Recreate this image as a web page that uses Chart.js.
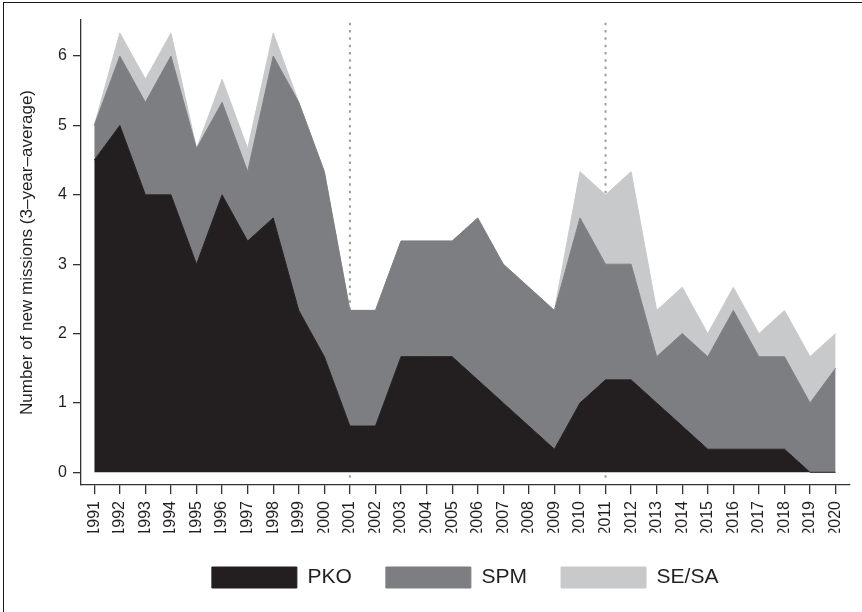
<!DOCTYPE html>
<html><head><meta charset="utf-8">
<script src="https://cdn.jsdelivr.net/npm/chart.js@4/dist/chart.umd.min.js"></script>
<style>
html,body{margin:0;padding:0;background:#fff;overflow:hidden;}
#wrap{position:relative;width:862px;height:612px;overflow:hidden;}
#c{position:absolute;left:0;top:0;}
#frame{position:absolute;left:3px;top:2px;width:900px;height:700px;border-top:1.5px solid #1a1a1a;border-left:1.5px solid #1a1a1a;pointer-events:none;}
</style></head><body>
<div id="wrap"><canvas id="c" width="862" height="612"></canvas><div id="frame"></div></div>
<script>
// ---- data ----
const years = [1991,1992,1993,1994,1995,1996,1997,1998,1999,2000,2001,2002,2003,2004,2005,2006,2007,2008,2009,2010,2011,2012,2013,2014,2015,2016,2017,2018,2019,2020];
const xTickLabels = years.map(String);
const pko  = [4.5,5,4,4,3,4,3.333,3.667,2.333,1.667,0.667,0.667,1.667,1.667,1.667,1.333,1,0.667,0.333,1,1.333,1.333,1,0.667,0.333,0.333,0.333,0.333,0,0];
const spm  = [0.5,1,1.333,2,1.667,1.333,1,2.333,3,2.667,1.667,1.667,1.667,1.667,1.667,2.333,2,2,2,2.667,1.667,1.667,0.667,1.333,1.333,2,1.333,1.333,1,1.5];
const sesa = [0,0.333,0.333,0.333,0,0.333,0.333,0.333,0,0,0,0,0,0,0,0,0,0,0,0.667,1,1.333,0.667,0.667,0.333,0.333,0.333,0.667,0.667,0.5];
const seriesNames = ['PKO','SPM','SE/SA'];
const yTicks = [0,1,2,3,4,5,6];
const refYears = [2001, 2011];
const refSpan = [-0.08, 6.5];
const yTitle = 'Number of new missions (3\u2013year\u2013average)';

// ---- styles ----
const colors = ['#231f20', '#7d7e82', '#c8c9cb'];
const FONT = "'Liberation Sans', Arial, Helvetica, sans-serif";
const TXT = '#231f20';
const AX = '#333333';

Chart.defaults.font.family = FONT;
Chart.defaults.color = TXT;

const pts = arr => years.map((yr, i) => ({x: yr, y: arr[i]}));
const series = [pko, spm, sesa];

const areaSets = series.map((arr, k) => ({
  label: seriesNames[k],
  data: pts(arr),
  backgroundColor: colors[k],
  borderColor: colors[k],
  borderWidth: 1,
  pointRadius: 0,
  tension: 0,
  fill: k === 0 ? 'origin' : '-1',
  stack: 'missions',
  order: 0
}));

const refSets = refYears.map((yr, k) => ({
  label: 'ref' + k,
  data: refSpan.map(v => ({x: yr, y: v})),
  borderColor: '#9e9e9e',
  borderWidth: 2,
  borderDash: [2.5, 4.8],
  pointRadius: 0,
  fill: false,
  stack: 'ref' + k,
  order: 5
}));

new Chart(document.getElementById('c'), {
  type: 'line',
  data: { datasets: [...areaSets, ...refSets] },
  options: {
    responsive: false,
    animation: false,
    devicePixelRatio: 1,
    events: [],
    layout: { padding: { top: 20, right: 11, bottom: 14, left: 0 } },
    plugins: {
      tooltip: { enabled: false },
      title: { display: false },
      legend: {
        position: 'bottom',
        fullSize: false,
        labels: {
          filter: item => item.datasetIndex < 3,
          boxWidth: 85,
          boxHeight: 21,
          padding: 34.15,
          color: TXT,
          font: { size: 21, family: FONT }
        }
      }
    },
    scales: {
      x: {
        type: 'linear',
        min: 1990.481,
        max: 2020.535,
        afterBuildTicks: s => { s.ticks = years.map(v => ({value: v})); },
        afterFit: s => { s.height = 47.85; },
        grid: { drawOnChartArea: false, drawTicks: true, tickLength: 9, color: AX, lineWidth: 1.3 },
        border: { display: true, color: AX, width: 1.3 },
        ticks: {
          autoSkip: false, minRotation: 90, maxRotation: 90, padding: 7,
          color: TXT, font: { size: 16, family: FONT },
          callback: (v, i) => xTickLabels[i]
        }
      },
      y: {
        stacked: true,
        min: -0.183,
        max: 6.52,
        afterBuildTicks: s => { s.ticks = yTicks.map(v => ({value: v})); },
        afterFit: s => { s.width = 81; },
        title: { display: true, text: yTitle, color: TXT, font: { size: 17, family: FONT }, padding: { top: 17.5, bottom: 0 } },
        grid: { drawOnChartArea: false, drawTicks: true, tickLength: 8, color: AX, lineWidth: 1.3 },
        border: { display: true, color: AX, width: 1.3 },
        ticks: { padding: 6, color: TXT, font: { size: 16, family: FONT }, callback: v => String(v) }
      }
    }
  }
});
</script>
</body></html>
